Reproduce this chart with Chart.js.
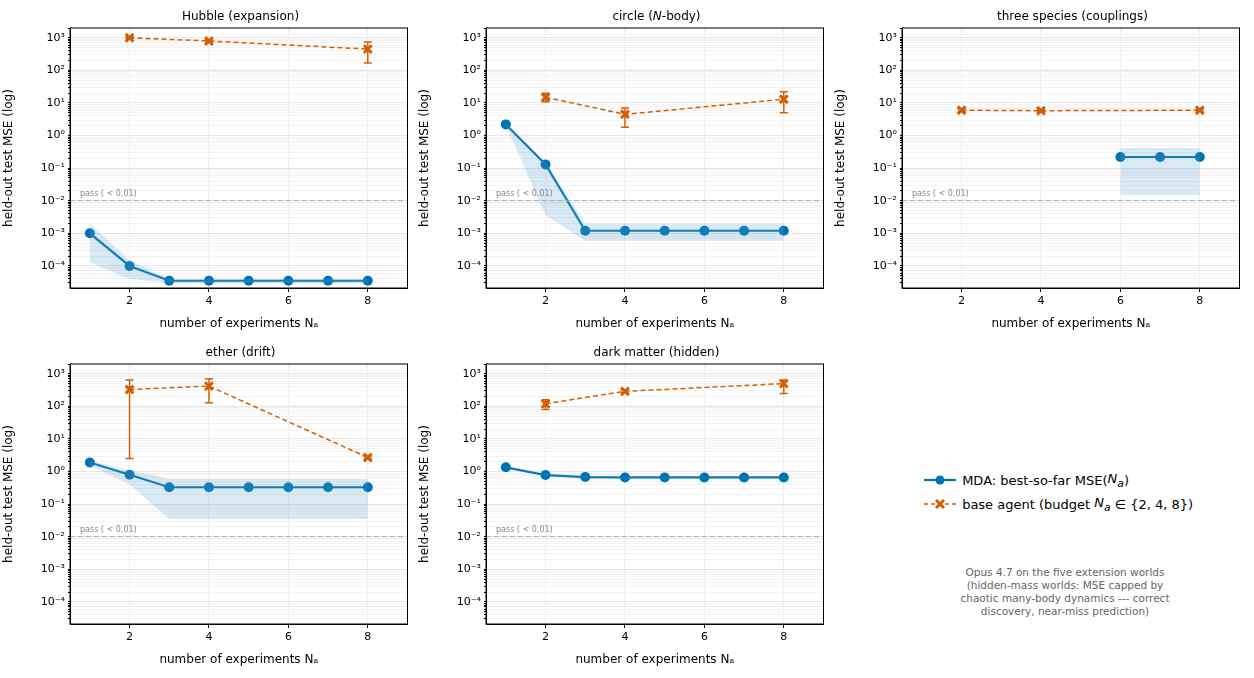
<!DOCTYPE html>
<html>
<head>
<meta charset="utf-8">
<script src="https://cdn.jsdelivr.net/npm/chart.js@4"></script>
<style>
  body { margin: 0; background: #fff; font-family: "DejaVu Sans", sans-serif; }
  .box { position: absolute; }
  .ttl { position: absolute; font-size: 12px; text-align: center; width: 341px; }
  .lg { position: absolute; left: 922px; font-size: 13px; display: flex; align-items: center; }
  .note { position: absolute; left: 920px; top: 566px; width: 290px; text-align: center; font-size: 10.5px; color: #666; line-height: 13px; }
</style>
</head>
<body>
<div class="lg" style="top:471px"><svg width="36" height="14"><line x1="2" y1="7" x2="34" y2="7" stroke="#0072B2" stroke-width="2.2"/><circle cx="18" cy="7" r="4.5" fill="#0072B2"/></svg>&nbsp;MDA: best-so-far MSE(<i>N<sub>a</sub></i>)</div>
<div class="lg" style="top:495px"><svg width="36" height="14"><line x1="2" y1="7" x2="34" y2="7" stroke="#D55E00" stroke-width="1.6" stroke-dasharray="4,3"/><path d="M14 3 L22 11 M22 3 L14 11" stroke="#D55E00" stroke-width="3"/></svg>&nbsp;base agent (budget <i>&nbsp;N<sub>a</sub></i>&nbsp;∈ {2, 4, 8})</div>
<div class="note">Opus 4.7 on the five extension worlds<br>(hidden-mass worlds: MSE capped by<br>chaotic many-body dynamics --- correct<br>discovery, near-miss prediction)</div>
<script>
// experiment counts
const mdaX = [1, 2, 3, 4, 5, 6, 7, 8];
const baseX = [2, 4, 8];

// Hubble (expansion)
const hubbleMda = [1e-3, 1e-4, 3.5e-5, 3.5e-5, 3.5e-5, 3.5e-5, 3.5e-5, 3.5e-5];
const hubbleLo = [1.3e-4, 4e-5, 3e-5, 3e-5, 3e-5, 3e-5, 3e-5, 3e-5];
const hubbleHi = [2e-3, 1.5e-4, 4e-5, 4e-5, 4e-5, 4e-5, 4e-5, 4e-5];
const hubbleBase = [1000, 800, 450];
const hubbleBaseLo = [950, 760, 170];
const hubbleBaseHi = [1050, 840, 750];

// circle (N-body)
const circleMda = [2.2, 0.13, 1.2e-3, 1.2e-3, 1.2e-3, 1.2e-3, 1.2e-3, 1.2e-3];
const circleLo = [2.1, 3.5e-3, 6e-4, 6e-4, 6e-4, 6e-4, 6e-4, 6e-4];
const circleHi = [2.3, 0.15, 2e-3, 2e-3, 2e-3, 2e-3, 2e-3, 2e-3];
const circleBase = [15, 4.5, 13];
const circleBaseLo = [11, 1.8, 5];
const circleBaseHi = [20, 7, 22];

// three species (couplings)
const speciesMda = [null, null, null, null, null, 0.22, 0.22, 0.22];
const speciesLo = [null, null, null, null, null, 0.015, 0.015, 0.015];
const speciesHi = [null, null, null, null, null, 0.4, 0.4, 0.4];
const speciesBase = [6, 5.8, 6];
const speciesBaseLo = [5.5, 5.4, 5.6];
const speciesBaseHi = [6.5, 6.2, 6.4];

// ether (drift)
const etherMda = [1.9, 0.8, 0.33, 0.33, 0.33, 0.33, 0.33, 0.33];
const etherLo = [1.5, 0.4, 0.035, 0.035, 0.035, 0.035, 0.035, 0.035];
const etherHi = [2.2, 1.1, 0.6, 0.6, 0.6, 0.6, 0.6, 0.6];
const etherBase = [330, 420, 2.7];
const etherBaseLo = [2.5, 130, 2.5];
const etherBaseHi = [650, 700, 2.9];

// dark matter (hidden)
const darkMda = [1.35, 0.78, 0.68, 0.66, 0.66, 0.66, 0.66, 0.66];
const darkLo = [1.3, 0.74, 0.65, 0.63, 0.63, 0.63, 0.63, 0.63];
const darkHi = [1.4, 0.82, 0.71, 0.69, 0.69, 0.69, 0.69, 0.69];
const darkBase = [120, 290, 500];
const darkBaseLo = [80, 260, 250];
const darkBaseHi = [160, 320, 650];

const decadeLabels = { '-4': '10⁻⁴', '-3': '10⁻³', '-2': '10⁻²', '-1': '10⁻¹', '0': '10⁰', '1': '10¹', '2': '10²', '3': '10³' };
const passLevel = 0.01;

const panels = [
    { title: 'Hubble (expansion)', left: 70, top: 28, mda: hubbleMda, lo: hubbleLo, hi: hubbleHi, base: hubbleBase, bLo: hubbleBaseLo, bHi: hubbleBaseHi },
    { title: 'circle (<i>N</i>-body)', left: 486, top: 28, mda: circleMda, lo: circleLo, hi: circleHi, base: circleBase, bLo: circleBaseLo, bHi: circleBaseHi },
    { title: 'three species (couplings)', left: 902, top: 28, mda: speciesMda, lo: speciesLo, hi: speciesHi, base: speciesBase, bLo: speciesBaseLo, bHi: speciesBaseHi },
    { title: 'ether (drift)', left: 70, top: 364, mda: etherMda, lo: etherLo, hi: etherHi, base: etherBase, bLo: etherBaseLo, bHi: etherBaseHi },
    { title: 'dark matter (hidden)', left: 486, top: 364, mda: darkMda, lo: darkLo, hi: darkHi, base: darkBase, bLo: darkBaseLo, bHi: darkBaseHi },
];

// draws error bars on the base-agent points, the "pass" label and the box frame
const extrasPlugin = {
    id: 'extras',
    afterDatasetsDraw(chart, args, opts) {
        const ctx = chart.ctx;
        const xs = chart.scales.x, ys = chart.scales.y;
        const a = chart.chartArea;
        ctx.save();
        ctx.strokeStyle = '#D55E00';
        ctx.lineWidth = 1.5;
        baseX.forEach((x, i) => {
            const px = xs.getPixelForValue(x);
            const y1 = ys.getPixelForValue(opts.lo[i]);
            const y2 = ys.getPixelForValue(opts.hi[i]);
            ctx.beginPath();
            ctx.moveTo(px, y1); ctx.lineTo(px, y2);
            ctx.moveTo(px - 4, y1); ctx.lineTo(px + 4, y1);
            ctx.moveTo(px - 4, y2); ctx.lineTo(px + 4, y2);
            ctx.stroke();
        });
        ctx.fillStyle = '#888';
        ctx.font = '8px "DejaVu Sans"';
        ctx.fillText('pass ( < 0.01)', a.left + 10, ys.getPixelForValue(passLevel) - 5);
        ctx.strokeStyle = '#000';
        ctx.lineWidth = 1;
        ctx.strokeRect(a.left, a.top, a.right - a.left, a.bottom - a.top);
        ctx.restore();
    }
};

panels.forEach(p => {
    const div = document.createElement('div');
    div.className = 'box';
    div.style.left = (p.left - 70) + 'px';
    div.style.top = (p.top - 10) + 'px';
    div.style.width = '416px';
    div.style.height = '315px';
    const canvas = document.createElement('canvas');
    div.appendChild(canvas);
    document.body.appendChild(div);

    const t = document.createElement('div');
    t.className = 'ttl';
    t.style.left = p.left + 'px';
    t.style.top = (p.top - 19) + 'px';
    t.innerHTML = p.title;
    document.body.appendChild(t);

    const pts = arr => mdaX.map((x, i) => ({ x: x, y: arr[i] }));

    new Chart(canvas, {
        type: 'line',
        data: {
            datasets: [
                { data: [{ x: 0.5, y: passLevel }, { x: 9, y: passLevel }], borderColor: '#aaa', borderWidth: 1.2, borderDash: [5, 3], pointRadius: 0 },
                { data: pts(p.lo), borderWidth: 0, pointRadius: 0, fill: false },
                { data: pts(p.hi), borderWidth: 0, pointRadius: 0, fill: '-1', backgroundColor: 'rgba(86,160,210,0.22)' },
                { data: baseX.map((x, i) => ({ x: x, y: p.base[i] })), borderColor: '#D55E00', borderWidth: 1.5, borderDash: [5, 3],
                  pointStyle: 'crossRot', pointRadius: 5.5, pointBorderWidth: 3, pointBorderColor: '#D55E00' },
                { data: pts(p.mda), borderColor: '#0072B2', backgroundColor: '#0072B2', borderWidth: 2.2, pointRadius: 5, pointBorderWidth: 0 },
            ]
        },
        options: {
            responsive: true,
            maintainAspectRatio: false,
            animation: false,
            layout: { padding: { top: 10, right: 1, left: 0, bottom: 0 } },
            plugins: { legend: { display: false }, tooltip: { enabled: false },
                extras: { lo: p.bLo, hi: p.bHi } },
            scales: {
                x: {
                    type: 'linear', min: 0.5, max: 9,
                    afterBuildTicks: ax => { ax.ticks = [2, 4, 6, 8].map(v => ({ value: v })); },
                    afterFit: ax => { ax.height = 45; },
                    ticks: { color: '#000', font: { size: 11, family: 'DejaVu Sans' } },
                    grid: { color: '#eee', tickColor: '#000', tickLength: 4 },
                    border: { color: '#000' },
                    title: { display: true, text: 'number of experiments Nₐ', color: '#000', font: { size: 12, family: 'DejaVu Sans' }, padding: 2 }
                },
                y: {
                    type: 'logarithmic', min: 2.1e-5, max: 2000,
                    afterBuildTicks: ax => {
                        const t = [];
                        for (let e = -5; e <= 3; e++)
                            for (let m = 1; m <= 9; m++) {
                                const v = m * Math.pow(10, e);
                                if (v >= 2.1e-5 && v <= 2000) t.push({ value: v, major: m === 1 });
                            }
                        ax.ticks = t;
                    },
                    afterFit: ax => { ax.width = 70; },
                    ticks: {
                        autoSkip: false, color: '#000', font: { size: 11, family: 'DejaVu Sans' },
                        callback: v => {
                            const e = Math.round(Math.log10(v));
                            return Math.abs(v - Math.pow(10, e)) < 1e-9 * v + 1e-12 ? decadeLabels[e] || '' : '';
                        }
                    },
                    grid: { color: c => (c.tick && c.tick.major) ? '#e6e6e6' : '#f3f3f3', tickColor: '#000', tickLength: c => (c.tick && c.tick.major) ? 4 : 2 },
                    border: { color: '#000' },
                    title: { display: true, text: 'held-out test MSE (log)', color: '#000', font: { size: 12, family: 'DejaVu Sans' }, padding: 2 }
                }
            }
        },
        plugins: [extrasPlugin]
    });
});
</script>
</body>
</html>
